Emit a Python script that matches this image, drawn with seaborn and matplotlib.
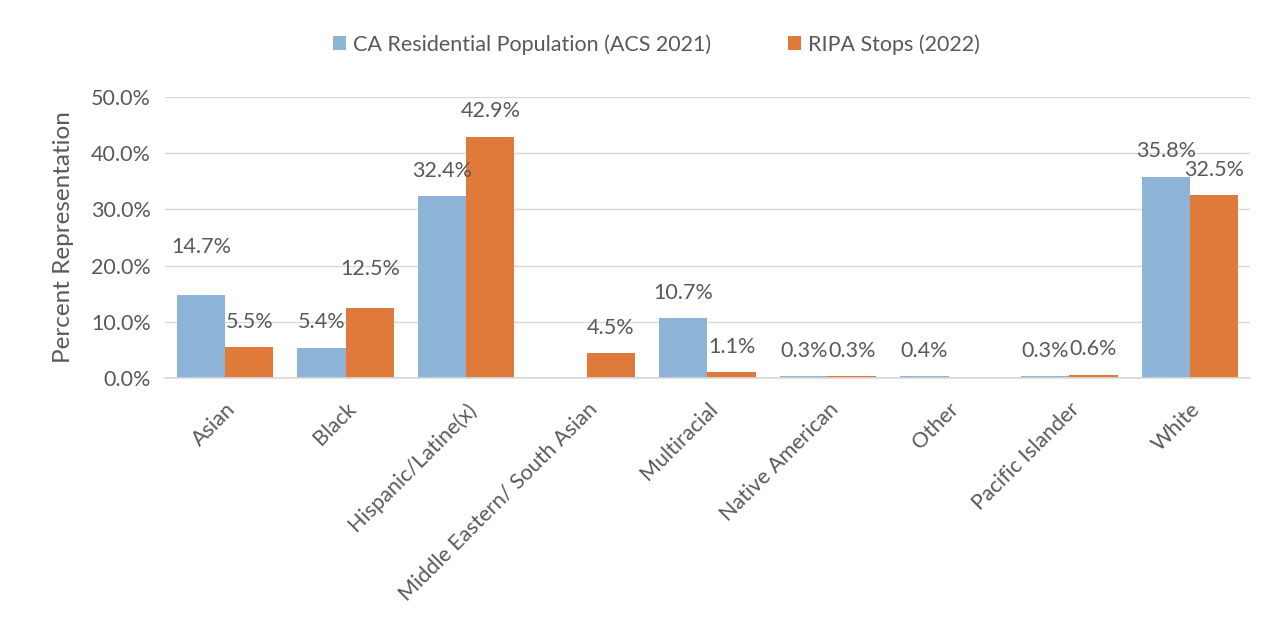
import numpy as np
import pandas as pd
import matplotlib
matplotlib.use("Agg")
import matplotlib.pyplot as plt
import seaborn as sns

categories = ["Asian", "Black", "Hispanic/Latine(x)", "Middle Eastern/ South Asian",
              "Multiracial", "Native American", "Other", "Pacific Islander", "White"]
series_names = ["CA Residential Population (ACS 2021)", "RIPA Stops (2022)"]
acs_2021 = [14.7, 5.4, 32.4, np.nan, 10.7, 0.3, 0.4, 0.3, 35.8]
ripa_2022 = [5.5, 12.5, 42.9, 4.5, 1.1, 0.3, np.nan, 0.6, 32.5]
yticks = [0, 10, 20, 30, 40, 50]

# label offsets (points) per series, mimicking the source's label placement
label_pad = [
    [28, 11, 11, 11, 11, 11, 11, 11, 11],
    [11, 21, 11, 11, 11, 11, 11, 11, 11],
]

colors = ["#8DB3D7", "#E07A3A"]
text_color = "#595959"
fs = 15.5

df = pd.DataFrame({
    "Category": categories * 2,
    "Series": [series_names[0]] * len(categories) + [series_names[1]] * len(categories),
    "Value": acs_2021 + ripa_2022,
})

sns.set_theme(style="white")
plt.rcParams["font.family"] = ["Lato", "DejaVu Sans"]

fig = plt.figure(figsize=(12.77, 6.24), dpi=100)
ax = fig.add_axes([0.129, 0.394, 0.850, 0.451])

sns.barplot(data=df, x="Category", y="Value", hue="Series", order=categories,
            hue_order=series_names, palette=colors, width=0.8, gap=0,
            saturation=1, ax=ax, legend=True, linewidth=0, edgecolor="none")

for si, cont in enumerate(ax.containers):
    for ci, bar in enumerate(cont):
        h = bar.get_height()
        if np.isnan(h):
            continue
        ax.annotate(f"{h:.1f}%", (bar.get_x() + bar.get_width() / 2, h),
                    xytext=(0, label_pad[si][ci]), textcoords="offset points",
                    ha="center", va="bottom", fontsize=fs, color=text_color)

ax.set_ylim(0, 50)
ax.set_yticks(yticks)
ax.set_yticklabels([f"{v:.1f}%" for v in yticks], fontsize=fs, color=text_color)
ax.set_xlim(-0.5, len(categories) - 0.5)
ax.set_xticks(range(len(categories)))
ax.set_xticklabels(categories, rotation=45, ha="right", rotation_mode="anchor",
                   fontsize=fs, color=text_color)
ax.tick_params(axis="y", length=0, pad=10)
ax.tick_params(axis="x", length=0, pad=15)
ax.set_xlabel("")
ax.set_ylabel("Percent Representation", fontsize=17.5, color=text_color, labelpad=12)
ax.yaxis.grid(True, color="#D9D9D9", linewidth=1)
ax.set_axisbelow(True)
for s in ["top", "right", "left"]:
    ax.spines[s].set_visible(False)
ax.spines["bottom"].set_color("#D9D9D9")

handles, labels = ax.get_legend_handles_labels()
ax.legend(handles, labels, loc="lower center", bbox_to_anchor=(0.453, 1.08), ncol=2,
          frameon=False, fontsize=fs, labelcolor=text_color, handlelength=0.6,
          handleheight=0.6, handletextpad=0.3, columnspacing=3.6)

fig.savefig("out.png", dpi=100, facecolor="white")
